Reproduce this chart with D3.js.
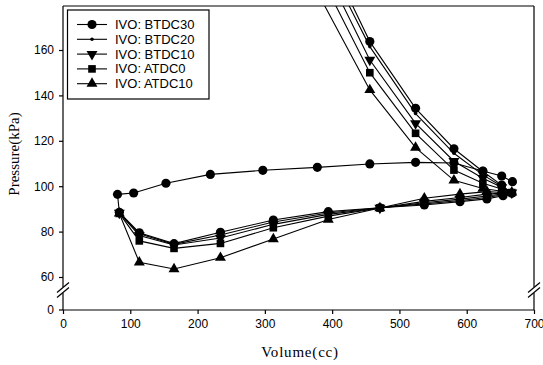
<!DOCTYPE html>
<html>
<head>
<meta charset="utf-8">
<script src="https://cdn.jsdelivr.net/npm/d3@7"></script>
<style>
  body { margin: 0; background: #fff; }
  svg { display: block; }
</style>
</head>
<body>
<div id="chart"></div>
<script>
// series names (legend order)
const seriesNames = ["IVO: BTDC30", "IVO: BTDC20", "IVO: BTDC10", "IVO: ATDC0", "IVO: ATDC10"];
const markerTypes = ["circle", "dot", "triDown", "square", "triUp"];

// exhaust stroke (only BTDC30 visible, the others lie under it)
const exhaustVolume = [668, 652, 624, 581, 524, 456, 378, 297, 219, 153, 105, 81];
const exhaustBTDC30 = [102.0, 104.5, 106.7, 110.2, 110.5, 109.8, 108.3, 107.0, 105.2, 101.3, 97.0, 96.4];

// intake stroke
const intakeVolume = [83.7, 113.4, 165, 234, 312.6, 394.3, 471, 537, 590, 630, 654, 667];
const intakeBTDC30 = [88.5, 79.5, 74.7, 79.7, 85.1, 88.8, 90.5, 91.7, 93.2, 94.4, 95.8, 96.9];
const intakeBTDC20 = [88.3, 79.0, 74.4, 78.5, 84.2, 88.2, 90.5, 92.2, 93.7, 95.0, 96.2, 97.0];
const intakeBTDC10 = [88.2, 78.3, 74.1, 77.2, 83.2, 87.6, 90.4, 92.7, 94.3, 95.7, 96.6, 97.1];
const intakeATDC0  = [88.0, 75.9, 72.6, 74.8, 81.7, 86.8, 90.4, 93.3, 95.0, 96.5, 97.0, 97.2];
const intakeATDC10 = [88.0, 66.5, 63.5, 68.5, 76.7, 85.3, 90.4, 94.7, 96.5, 97.6, 97.2, 97.3];

// compression stroke (last point runs off the top)
const compVolume = [652, 624, 581, 524, 456, 378];
const compBTDC30 = [100.5, 106.5, 116.5, 134.3, 163.7, 211.7];
const compBTDC20 = [100.0, 105.0, 114.5, 132.0, 161.5, 207.1];
const compBTDC10 = [99.5, 103.5, 111.0, 127.7, 155.6, 202.6];
const compATDC0  = [98.8, 101.3, 107.1, 123.3, 150.0, 195.5];
const compATDC10 = [97.8, 99.0, 102.6, 117.0, 142.4, 185.5];

const xTicks = [0, 100, 200, 300, 400, 500, 600, 700];
const yTicks = [60, 80, 100, 120, 140, 160];

const zip = (vs, ps) => vs.map((v, i) => ({ v, p: ps[i] }));

const seriesData = [
  [...zip(exhaustVolume, exhaustBTDC30), ...zip(intakeVolume, intakeBTDC30), ...zip(compVolume, compBTDC30)],
  [...zip(intakeVolume, intakeBTDC20), ...zip(compVolume, compBTDC20)],
  [...zip(intakeVolume, intakeBTDC10), ...zip(compVolume, compBTDC10)],
  [...zip(intakeVolume, intakeATDC0), ...zip(compVolume, compATDC0)],
  [...zip(intakeVolume, intakeATDC10), ...zip(compVolume, compATDC10)]
];

const W = 543, H = 365;
const mLeft = 63, mRight = 534, mTop = 6, mBottom = 310;
const breakY = 290;

const svg = d3.select("#chart").append("svg")
  .attr("width", W).attr("height", H);

const x = d3.scaleLinear().domain([0, 700]).range([mLeft, mRight]);
const y = d3.scaleLinear().domain([60, 160]).range([277, 50]);

// clip to the upper (broken) segment
svg.append("clipPath").attr("id", "plotClip")
  .append("rect").attr("x", mLeft).attr("y", mTop)
  .attr("width", mRight - mLeft).attr("height", breakY - 3 - mTop);

const axisFont = "'Liberation Sans', Arial, sans-serif";
const serif = "'Liberation Serif', 'Times New Roman', serif";

// frame (with breaks on left and right side)
const frame = svg.append("g").attr("stroke", "#000").attr("stroke-width", 1.2).attr("fill", "none");
frame.append("line").attr("x1", mLeft).attr("x2", mRight).attr("y1", mTop).attr("y2", mTop);
frame.append("line").attr("x1", mLeft).attr("x2", mRight).attr("y1", mBottom).attr("y2", mBottom);
[mLeft, mRight].forEach(sx => {
  frame.append("line").attr("x1", sx).attr("x2", sx).attr("y1", mTop).attr("y2", breakY - 3);
  frame.append("line").attr("x1", sx).attr("x2", sx).attr("y1", breakY + 3).attr("y2", mBottom);
  [-2.5, 2.5].forEach(o => {
    frame.append("line")
      .attr("x1", sx - 6).attr("y1", breakY + o + 5)
      .attr("x2", sx + 6).attr("y2", breakY + o - 5);
  });
});

// x axis
const xAxis = svg.append("g").attr("transform", `translate(0,${mBottom})`)
  .call(d3.axisBottom(x).tickValues(xTicks).tickSize(4).tickPadding(5).tickSizeOuter(0));
xAxis.select(".domain").remove();
xAxis.selectAll("line").attr("stroke-width", 1.2);
xAxis.selectAll("text").style("font-family", axisFont).style("font-size", "12px").attr("fill", "#000");

// y axis (upper part)
const yAxis = svg.append("g").attr("transform", `translate(${mLeft},0)`)
  .call(d3.axisLeft(y).tickValues(yTicks).tickSize(4).tickPadding(5).tickSizeOuter(0));
yAxis.select(".domain").remove();
yAxis.selectAll("line").attr("stroke-width", 1.2);
yAxis.selectAll("text").style("font-family", axisFont).style("font-size", "12px").attr("fill", "#000");

// zero tick below the break
svg.append("line").attr("x1", mLeft - 4).attr("x2", mLeft).attr("y1", mBottom).attr("y2", mBottom)
  .attr("stroke", "#000").attr("stroke-width", 1.2);
svg.append("text").attr("x", mLeft - 9).attr("y", mBottom).attr("dy", "0.32em")
  .attr("text-anchor", "end").style("font-family", axisFont).style("font-size", "12px").text("0");

// axis titles
svg.append("text").attr("x", 300).attr("y", 357).attr("text-anchor", "middle")
  .style("font-family", serif).style("font-size", "15px").style("letter-spacing", "0.8px")
  .text("Volume(cc)");
svg.append("text").attr("transform", "translate(19,154) rotate(-90)").attr("text-anchor", "middle")
  .style("font-family", serif).style("font-size", "15px")
  .text("Pressure(kPa)");

// markers
function drawMarker(g, type, cx, cy) {
  if (type === "dot") {
    g.append("circle").attr("cx", cx).attr("cy", cy).attr("r", 1.8).attr("fill", "#000");
    return;
  }
  const sym = { circle: d3.symbolCircle, square: d3.symbolSquare, triUp: d3.symbolTriangle, triDown: d3.symbolTriangle }[type];
  const size = { circle: 66, square: 58, triUp: 52, triDown: 52 }[type];
  g.append("path")
    .attr("d", d3.symbol().type(sym).size(size)())
    .attr("transform", `translate(${cx},${cy})` + (type === "triDown" ? " rotate(180)" : ""))
    .attr("fill", "#000");
}

const line = d3.line().x(d => x(d.v)).y(d => y(d.p));
const plot = svg.append("g").attr("clip-path", "url(#plotClip)");

// draw last series first so BTDC30 sits on top
for (let i = seriesData.length - 1; i >= 0; i--) {
  plot.append("path").datum(seriesData[i])
    .attr("d", line).attr("fill", "none").attr("stroke", "#000").attr("stroke-width", 1.1);
}
for (let i = seriesData.length - 1; i >= 0; i--) {
  seriesData[i].forEach(d => drawMarker(plot, markerTypes[i], x(d.v), y(d.p)));
}

// legend
const lg = svg.append("g");
lg.append("rect").attr("x", 67.5).attr("y", 10).attr("width", 141.5).attr("height", 89)
  .attr("fill", "#fff").attr("stroke", "#000").attr("stroke-width", 1.2);
seriesNames.forEach((name, i) => {
  const ly = 24.5 + i * 14.8;
  lg.append("line").attr("x1", 77).attr("x2", 107).attr("y1", ly).attr("y2", ly)
    .attr("stroke", "#000").attr("stroke-width", 1.1);
  drawMarker(lg, markerTypes[i], 92, ly);
  lg.append("text").attr("x", 115).attr("y", ly).attr("dy", "0.35em")
    .style("font-family", axisFont).style("font-size", "13px").text(name);
});
</script>
</body>
</html>
